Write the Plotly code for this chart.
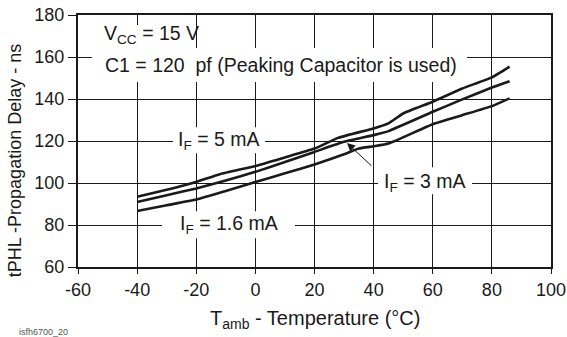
import plotly.graph_objects as go

# Propagation delay tPHL vs. ambient temperature, three forward currents
temp_5ma = [-40, -30, -20, -12, 0, 10, 20, 28, 40, 45, 50, 60, 70, 80, 86]
tphl_5ma = [93.4, 96.8, 100.5, 104.2, 108.1, 112.2, 116.4, 121.5, 126.0, 128.4, 133.1, 138.7, 145.0, 150.3, 155.4]

temp_3ma = [-40, -30, -20, -10, 0, 10, 20, 30, 40, 45, 60, 70, 80, 86]
tphl_3ma = [91.0, 94.2, 97.4, 101.2, 105.3, 110.0, 114.8, 119.6, 122.8, 124.7, 133.9, 139.8, 145.5, 148.5]

temp_1p6ma = [-40, -30, -20, -10, 0, 10, 20, 30, 35, 40, 45, 60, 70, 80, 86]
tphl_1p6ma = [86.7, 89.4, 92.1, 96.2, 100.5, 104.6, 108.8, 113.7, 116.4, 117.5, 118.8, 128.0, 132.3, 136.6, 140.3]

x_ticks = [-60, -40, -20, 0, 20, 40, 60, 80, 100]
y_ticks = [60, 80, 100, 120, 140, 160, 180]

FONT = "Liberation Sans, Arial, sans-serif"
INK = "#1a1a1a"

fig = go.Figure()
for tx, ty in [(temp_5ma, tphl_5ma), (temp_3ma, tphl_3ma), (temp_1p6ma, tphl_1p6ma)]:
    fig.add_trace(go.Scatter(x=tx, y=ty, mode="lines",
                             line=dict(color=INK, width=2.6, shape="spline", smoothing=0.4),
                             showlegend=False, hoverinfo="skip"))

# white patches that break the grid behind the text labels
patches = [
    (-55.3, -27.2, 148.1, 175.2),
    (-55.3, 71.6, 148.1, 164.3),
    (-27.9, 3.3, 114.2, 126.6),
    (41.5, 73.3, 94.7, 107.5),
    (-31.6, 13.4, 73.7, 86.6),
]
for x0, x1, y0, y1 in patches:
    fig.add_shape(type="rect", xref="x", yref="y", x0=x0, x1=x1, y0=y0, y1=y1,
                  fillcolor="white", line=dict(width=0), layer="between")

lab = dict(family=FONT, size=19.5, color=INK)
fig.add_annotation(x=-51.9, y=170.5, text="V<sub>CC</sub> = 15 V", showarrow=False,
                   xanchor="left", yanchor="middle", font=lab)
fig.add_annotation(x=-51.5, y=156.2, text="C1 = 120&nbsp; pf (Peaking Capacitor is used)",
                   showarrow=False, xanchor="left", yanchor="middle", font=lab)
fig.add_annotation(x=-12.3, y=120.4, text="I<sub>F</sub> = 5 mA", showarrow=False,
                   xanchor="center", yanchor="middle", font=lab)
fig.add_annotation(x=57.4, y=100.4, text="I<sub>F</sub> = 3 mA", showarrow=False,
                   xanchor="center", yanchor="middle", font=lab)
fig.add_annotation(x=-8.9, y=80.4, text="I<sub>F</sub> = 1.6 mA", showarrow=False,
                   xanchor="center", yanchor="middle", font=lab)
# pointer from the 3 mA label to its curve
fig.add_annotation(x=31, y=119, ax=39.8, ay=107.5, axref="x", ayref="y", xref="x", yref="y",
                   text="", showarrow=True, arrowhead=2, arrowsize=1.6, arrowwidth=1,
                   arrowcolor=INK)

fig.add_annotation(xref="paper", yref="paper", x=-0.133, y=0.42,
                   text="tPHL -Propagation Delay - ns", textangle=-90, showarrow=False,
                   xanchor="center", yanchor="middle", font=dict(family=FONT, size=18, color=INK))
fig.add_annotation(xref="paper", yref="paper", x=0.5, y=-0.21,
                   text="T<sub>amb</sub> - Temperature (°C)", showarrow=False,
                   xanchor="center", yanchor="middle", font=dict(family=FONT, size=20, color=INK))
fig.add_annotation(xref="paper", yref="paper", x=-0.129, y=-0.258,
                   text="isfh6700_20", showarrow=False, xanchor="left", yanchor="middle",
                   font=dict(family=FONT, size=9, color="#555555"))

axis_common = dict(showline=True, linecolor=INK, linewidth=2, mirror=True,
                   showgrid=True, gridcolor=INK, gridwidth=1, zeroline=False,
                   ticks="outside", tickwidth=1, tickcolor=INK, automargin=False,
                   tickfont=dict(family=FONT, size=18, color=INK))
fig.update_xaxes(range=[-60, 100], tickvals=x_ticks, ticktext=[str(v) for v in x_ticks],
                 ticklen=5, ticklabelstandoff=0, **axis_common)
fig.update_yaxes(range=[60, 180], tickvals=y_ticks, ticktext=[str(v) for v in y_ticks],
                 ticklen=8, **axis_common)

fig.update_layout(width=567, height=337, margin=dict(l=78, r=16, t=15, b=70),
                  paper_bgcolor="white", plot_bgcolor="white")
fig.write_html("out.html")
